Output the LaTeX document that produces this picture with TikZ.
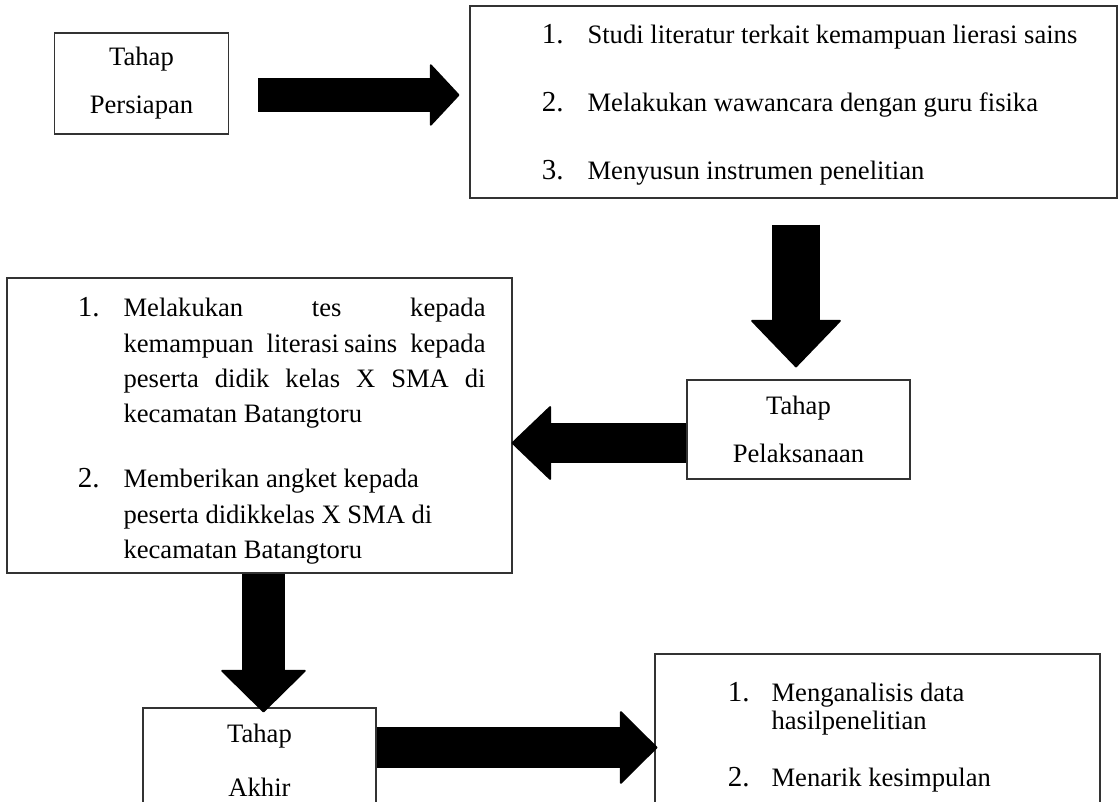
\documentclass[tikz,border=0pt]{standalone}
\usepackage{fontspec}
\setmainfont{Liberation Serif}
\usetikzlibrary{arrows.meta}
\newcommand{\angka}[1]{{\fontsize{14.5}{17.7}\selectfont #1}}

\begin{document}
\begin{tikzpicture}[x=0.5pt, y=-0.5pt,
  kotak/.style={draw=black!80, line width=0.6pt, inner sep=0pt},
  tahap/.style={kotak, align=center, font=\fontsize{13.3}{24}\selectfont},
  isi/.style={anchor=north west, inner sep=0pt, font=\fontsize{13.3}{17.7}\selectfont},
  blok/.style n args={3}{line width=#1, -{Triangle[width=#2, length=#3, line width=1pt, round]}}]
\useasboundingbox (0,0) rectangle (1120,802);
\clip (0,0) rectangle (1120,802);
\node[tahap, minimum width=87pt, minimum height=50.5pt] (persiapan) at (141.5,83.5) {Tahap\\Persiapan};
\node[kotak, minimum width=323.5pt, minimum height=96pt] (langkah1) at (793.5,102) {};
\node[isi] (isi1) at ([xshift=36pt, yshift=-6.6pt]langkah1.north west) {%
\begin{tabular}{@{}l@{\hspace{12pt}}l@{}}
\angka{1.} & Studi literatur terkait kemampuan lierasi sains\\[16.3pt]
\angka{2.} & Melakukan wawancara dengan guru fisika\\[16.3pt]
\angka{3.} & Menyusun instrumen penelitian
\end{tabular}};
\node[tahap, minimum width=111.5pt, minimum height=49.5pt] (pelaksanaan) at (798.5,429.5) {Tahap\\Pelaksanaan};
\node[kotak, minimum width=252.5pt, minimum height=147.5pt] (langkah2) at (259.5,425.5) {};
\node[isi] (isi2) at ([xshift=35.5pt, yshift=-7.1pt]langkah2.north west) {%
\begin{tabular}{@{}l@{\hspace{12pt}}p{181pt}@{}}
\angka{1.} & \makebox[\linewidth][s]{Melakukan tes kepada}\\
 & \makebox[\linewidth][s]{kemampuan literasi\kern2.5pt sains kepada}\\
 & \makebox[\linewidth][s]{peserta didik kelas X SMA di}\\
 & kecamatan Batangtoru\\[14.8pt]
\angka{2.} & Memberikan angket kepada\\
 & peserta didikkelas X SMA di\\
 & kecamatan Batangtoru
\end{tabular}};
\node[tahap, minimum width=116.5pt, minimum height=52pt, font=\fontsize{13.3}{27}\selectfont] (akhir) at (259.5,760) {Tahap\\Akhir};
\node[kotak, minimum width=222.5pt, minimum height=87.5pt] (langkah3) at (877.5,741.5) {};
\node[isi] (isi3) at ([xshift=36.5pt, yshift=-11.6pt]langkah3.north west) {%
\begin{tabular}{@{}l@{\hspace{11pt}}l@{}}
\angka{1.} & Menganalisis data\\[-4pt]
 & hasilpenelitian\\[11.1pt]
\angka{2.} & Menarik kesimpulan
\end{tabular}};
\draw[blok={17pt}{32pt}{15pt}] ([xshift=14.5pt, yshift=-5.75pt]persiapan.east) -- ([xshift=-5pt, yshift=3.5pt]langkah1.west);
\draw[blok={24pt}{46pt}{24pt}] ([xshift=1.25pt, yshift=-13pt]langkah1.south) -- ([xshift=-1.25pt, yshift=6pt]pelaksanaan.north);
\draw[blok={20pt}{38pt}{20pt}] ([yshift=-6.75pt]pelaksanaan.west) -- ([xshift=-0.5pt, yshift=-8.75pt]langkah2.east);
\draw[blok={21.5pt}{43.5pt}{21.5pt}] ([xshift=2pt]langkah2.south) -- ([xshift=2pt, yshift=-2.5pt]akhir.north);
\draw[blok={20.5pt}{37.5pt}{19pt}] ([yshift=6.25pt]akhir.east) -- ([xshift=1.5pt, yshift=-3pt]langkah3.west);
\end{tikzpicture}
\end{document}
